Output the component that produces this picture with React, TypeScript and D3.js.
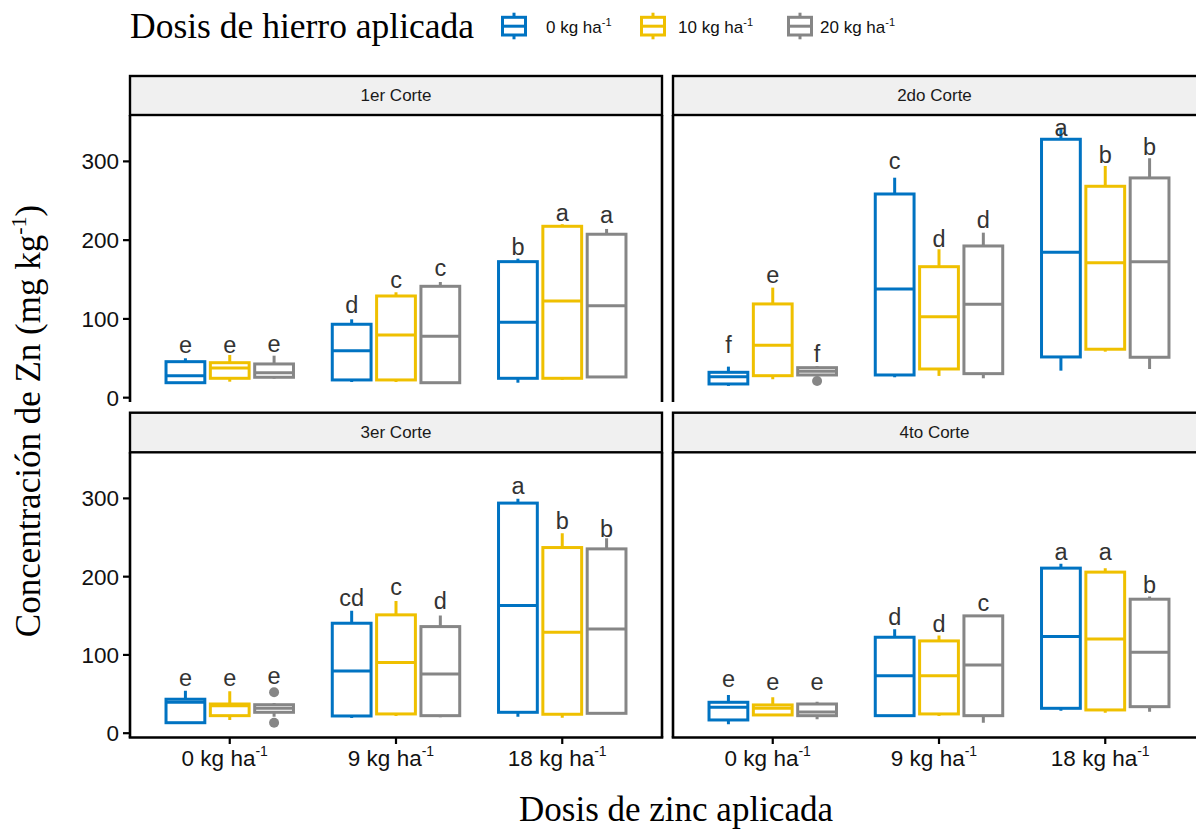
import React from "react";
import * as d3 from "d3";

// ---------- data ----------
const cortes = ["1er Corte", "2do Corte", "3er Corte", "4to Corte"];
const zincDoses = ["0", "9", "18"];
const ironDoses = ["0", "10", "20"];
const ironColors = ["#0073C2", "#EFC000", "#868686"];
const yTicks = [0, 100, 200, 300];

// rows: zinc dose (0, 9, 18); columns: iron dose (0, 10, 20)
// each: [lower whisker, q1, median, q3, upper whisker]
const corte1Stats = [
  [[18.3, 19, 27.9, 45.7, 50], [20.3, 24.6, 37.7, 44.4, 54.2], [24.1, 25.9, 31.7, 42.8, 53.3]],
  [[19.9, 22.5, 59.7, 93.2, 99.5], [19.9, 22.5, 79.6, 129.1, 133.8], [18.7, 19, 78, 141.4, 146.9]],
  [[19, 24.6, 95.7, 172.7, 176.5], [22.5, 24.6, 122.8, 217.6, 220.2], [26.3, 26.3, 116.8, 207.5, 214.2]],
];
const corte2Stats = [
  [[14.9, 17.4, 26.7, 32.2, 39.4], [23.4, 27.9, 66.5, 119, 139.7], [28.8, 28.8, 33.5, 38.1, 40.2]],
  [[25.9, 28.8, 138, 258.6, 279.3], [27.6, 36.4, 102.8, 166.3, 188.4], [24.6, 30.5, 118.6, 192.6, 209.5]],
  [[34.3, 51.7, 184.6, 328.1, 341.2], [58.4, 61.5, 171.4, 268.4, 294.2], [36.4, 51.3, 172.7, 279, 304]],
];
const corte3Stats = [
  [[12.7, 13.4, 39.5, 43.4, 54.3], [16.9, 22.4, 35, 37.3, 53.6], [21.1, 26.7, 31.8, 36.4, 38.5]],
  [[19.4, 22, 79.5, 140.5, 156.3], [22, 24.6, 90.2, 151.2, 169], [20.3, 22.4, 75.7, 136.2, 150.3]],
  [[21.1, 26.7, 163, 294, 299.5], [19.8, 24.2, 129, 237.2, 255.6], [25.4, 25.4, 133.2, 235.5, 249.2]],
];
const corte4Stats = [
  [[11.4, 16.9, 33.1, 39.5, 48.8], [23.3, 23.3, 32, 36.1, 45.9], [17.8, 22.4, 27, 37.3, 40.3]],
  [[22.4, 22.4, 73.5, 122.6, 132.9], [22, 24.6, 73.5, 117.9, 124.7], [13.4, 22.4, 87.2, 149.9, 149.9]],
  [[28.8, 31.8, 123.4, 210.9, 216.4], [26.2, 29.7, 120.5, 205.8, 210.9], [27.5, 33.9, 103.5, 171.2, 174.6]],
];

const corte1Letters = [["e", "e", "e"], ["d", "c", "c"], ["b", "a", "a"]];
const corte2Letters = [["f", "e", "f"], ["c", "d", "d"], ["a", "b", "b"]];
const corte3Letters = [["e", "e", "e"], ["cd", "c", "d"], ["a", "b", "b"]];
const corte4Letters = [["e", "e", "e"], ["d", "d", "c"], ["a", "a", "b"]];

// vertical position (data units) of the centre of each letter
const corte1LabelY = [[64.8, 64, 66], [117.7, 147.3, 162.4], [191.7, 231.8, 228.9]];
const corte2LabelY = [[66.9, 153.6, 56.4], [297.6, 202.4, 225.6], [339.9, 308.2, 318.7]];
const corte3LabelY = [[68, 68, 71], [173.3, 184, 169.4], [313.9, 271.4, 262]];
const corte4LabelY = [[66.8, 62.5, 62.5], [149, 139.6, 163.9], [229.2, 229.2, 189.5]];

// outliers: [corte index, zinc index, iron index, value]
const outliers = [
  [1, 0, 2, 21.2],
  [2, 0, 2, 52.3],
  [2, 0, 2, 13.4],
];

const allStats = [corte1Stats, corte2Stats, corte3Stats, corte4Stats];
const allLetters = [corte1Letters, corte2Letters, corte3Letters, corte4Letters];
const allLabelY = [corte1LabelY, corte2LabelY, corte3LabelY, corte4LabelY];

// ---------- layout ----------
const W = 1196;
const H = 829;
const SANS = "'Liberation Sans', Arial, Helvetica, sans-serif";
const SERIF = "'Liberation Serif', 'Times New Roman', serif";
const colX = [
  [130, 662],
  [673, 1205],
];
const rows = [
  { stripTop: 76, stripBottom: 115, bottom: 402 },
  { stripTop: 412.7, stripBottom: 452.3, bottom: 737.5 },
];
const yDomain = [-5.5, 358.9];
const LW = 3;

function Sup({ main, sup, supSize, dy }: { main: string; sup: string; supSize: number; dy: number }) {
  return (
    <>
      <tspan>{main}</tspan>
      <tspan fontSize={supSize} dy={-dy}>{sup}</tspan>
    </>
  );
}

function Panel({ idx }: { idx: number }) {
  const r = Math.floor(idx / 2);
  const c = idx % 2;
  const [x0, x1] = colX[c];
  const row = rows[r];
  const x = d3.scalePoint<string>().domain(zincDoses).range([x0, x1]).padding(0.6);
  const y = d3.scaleLinear().domain(yDomain).range([row.bottom, row.stripBottom]);
  const step = x.step();
  const dodge = (step * 0.8) / 3;
  const bw = (step * 0.7) / 3;
  const stats = allStats[idx];
  const letters = allLetters[idx];
  const labelY = allLabelY[idx];
  const clipId = `clip${idx}`;

  return (
    <g>
      <defs>
        <clipPath id={clipId}>
          <rect x={x0} y={row.stripBottom} width={x1 - x0} height={row.bottom - row.stripBottom} />
        </clipPath>
      </defs>
      {/* strip */}
      <rect x={x0} y={row.stripTop} width={x1 - x0} height={row.stripBottom - row.stripTop} fill="#F0F0F0" stroke="#000" strokeWidth={2.4} />
      <text x={(x0 + x1) / 2 - (c === 1 ? 4.5 : 0)} y={(row.stripTop + row.stripBottom) / 2} dy="0.35em" textAnchor="middle" fontFamily={SANS} fontSize={17} fill="#1a1a1a">
        {cortes[idx]}
      </text>
      {/* panel frame */}
      <line x1={x0} x2={x0} y1={row.stripBottom} y2={row.bottom} stroke="#000" strokeWidth={2.6} />
      <line x1={x1} x2={x1} y1={row.stripBottom} y2={row.bottom} stroke="#000" strokeWidth={2.6} />
      {r === 1 && <line x1={x0 - 1.3} x2={x1 + 1.3} y1={row.bottom} y2={row.bottom} stroke="#000" strokeWidth={2.6} />}

      {/* boxes */}
      <g clipPath={`url(#${clipId})`}>
        {zincDoses.map((z, zi) =>
          ironDoses.map((f, fi) => {
            const [lo, q1, med, q3, hi] = stats[zi][fi];
            const cx = (x(z) as number) + (fi - 1) * dodge;
            const col = ironColors[fi];
            return (
              <g key={`${zi}-${fi}`} stroke={col} strokeWidth={LW} fill="none">
                <line x1={cx} x2={cx} y1={y(q3)} y2={y(hi)} />
                <line x1={cx} x2={cx} y1={y(q1)} y2={y(lo)} />
                <rect x={cx - bw / 2} y={y(q3)} width={bw} height={Math.max(0.5, y(q1) - y(q3))} fill="#fff" />
                <line x1={cx - bw / 2} x2={cx + bw / 2} y1={y(med)} y2={y(med)} />
              </g>
            );
          })
        )}
        {outliers
          .filter((o) => o[0] === idx)
          .map((o, k) => (
            <circle key={k} cx={(x(zincDoses[o[1]]) as number) + (o[2] - 1) * dodge} cy={y(o[3])} r={5} fill={ironColors[o[2]]} />
          ))}
      </g>

      {/* letters */}
      {zincDoses.map((z, zi) =>
        ironDoses.map((f, fi) => {
          const cx = (x(z) as number) + (fi - 1) * dodge;
          const l = letters[zi][fi];
          const tall = /[bdf]/.test(l);
          return (
            <text key={`l${zi}-${fi}`} x={cx} y={y(labelY[zi][fi])} dy={tall ? "0.36em" : "0.26em"} textAnchor="middle" fontFamily={SANS} fontSize={23.5} fill="#333">
              {l}
            </text>
          );
        })
      )}

      {/* y axis */}
      {c === 0 &&
        yTicks.map((t) => (
          <g key={t}>
            <line x1={x0 - 7} x2={x0} y1={y(t)} y2={y(t)} stroke="#000" strokeWidth={2.2} />
            <text x={x0 - 11} y={y(t)} dy="0.36em" textAnchor="end" fontFamily={SANS} fontSize={22.5} fill="#111">
              {t}
            </text>
          </g>
        ))}
      {/* x axis */}
      {r === 1 &&
        zincDoses.map((z) => (
          <g key={z}>
            <line x1={x(z) as number} x2={x(z) as number} y1={row.bottom} y2={row.bottom + 6.5} stroke="#000" strokeWidth={2.2} />
            <text x={(x(z) as number) - 5} y={765.5} textAnchor="middle" fontFamily={SANS} fontSize={22.5} fill="#111">
              <Sup main={`${z} kg ha`} sup="-1" supSize={14} dy={10} />
            </text>
          </g>
        ))}
    </g>
  );
}

export default function App() {
  const keyX = [501, 640, 787];
  const labelX = [546, 678, 820];
  return (
    <svg width={W} height={H} viewBox={`0 0 ${W} ${H}`} style={{ position: "absolute", left: 0, top: 0, background: "#fff" }}>
      <rect x={0} y={0} width={W} height={H} fill="#fff" />
      {/* legend */}
      <text x={130} y={38} fontFamily={SERIF} fontSize={35.5} fill="#000">
        Dosis de hierro aplicada
      </text>
      {ironDoses.map((f, i) => (
        <g key={f}>
          <g stroke={ironColors[i]} strokeWidth={LW} fill="none">
            <line x1={keyX[i] + 13} x2={keyX[i] + 13} y1={12.7} y2={39.3} />
            <rect x={keyX[i] + 1.5} y={17.3} width={23} height={17.7} fill="#fff" />
            <line x1={keyX[i] + 1.5} x2={keyX[i] + 24.5} y1={26.2} y2={26.2} />
          </g>
          <text x={labelX[i]} y={33} fontFamily={SANS} fontSize={17} fill="#111">
            <Sup main={`${f} kg ha`} sup="-1" supSize={11} dy={7} />
          </text>
        </g>
      ))}

      {cortes.map((_, i) => (
        <Panel key={i} idx={i} />
      ))}

      {/* axis titles */}
      <text transform={`translate(40, 421) rotate(-90)`} textAnchor="middle" fontFamily={SERIF} fontSize={35} fill="#000">
        <tspan>Concentración de Zn (mg kg</tspan>
        <tspan fontSize={22} dy={-14}>-1</tspan>
        <tspan dy={14}>)</tspan>
      </text>
      <text x={676} y={821} textAnchor="middle" fontFamily={SERIF} fontSize={35} fill="#000">
        Dosis de zinc aplicada
      </text>
    </svg>
  );
}
